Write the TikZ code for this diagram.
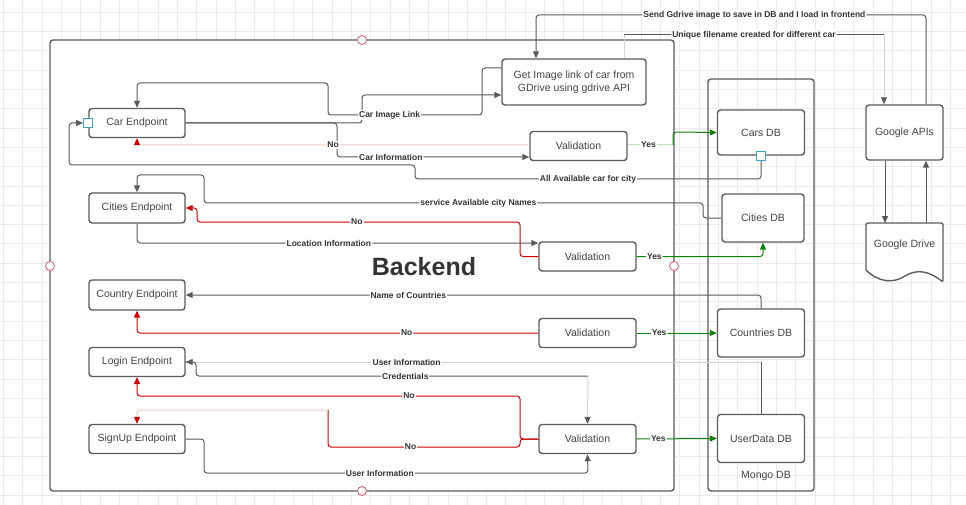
\documentclass[tikz,border=0pt]{standalone}
\usepackage{fontspec}
\setmainfont{Liberation Sans}
\usetikzlibrary{arrows.meta}
\definecolor{linec}{HTML}{5A5A5A}
\definecolor{boxc}{HTML}{5C5C5C}
\definecolor{txtc}{HTML}{444444}
\definecolor{lblc}{HTML}{333333}
\definecolor{gridc}{HTML}{EBEBEB}
\definecolor{redc}{HTML}{D00000}
\definecolor{pinkc}{HTML}{F3C9C9}
\definecolor{greenc}{HTML}{0A800A}
\definecolor{lgreenc}{HTML}{BFE3BF}
\definecolor{lgrayc}{HTML}{D4D4D4}
\definecolor{handlec}{HTML}{D9596A}
\definecolor{sqc}{HTML}{3FA3C4}
\begin{document}
\begin{tikzpicture}[x=1pt,y=-1pt,
  box/.style={draw=boxc,line width=1.4pt,rounded corners=3pt,fill=white,text=txtc,font=\fontsize{10.5}{13}\selectfont,inner sep=0pt,align=center},
  frame/.style={draw=boxc,line width=1.4pt,rounded corners=3pt,inner sep=0pt},
  lbl/.style={fill=white,inner sep=1pt,text=lblc,font=\bfseries\fontsize{8.5}{10}\selectfont},
  conn/.style={draw=linec,line width=1pt,rounded corners=3pt},
  lconn/.style={draw=lgrayc,line width=1pt,rounded corners=3pt},
  noline/.style={draw=redc,line width=1pt,rounded corners=3pt},
  lnoline/.style={draw=pinkc,line width=1pt,rounded corners=3pt},
  yesline/.style={draw=greenc,line width=1pt,rounded corners=3pt},
  lyesline/.style={draw=lgreenc,line width=1pt,rounded corners=3pt},
  arr/.style={-{Triangle[length=7pt,width=6pt,color=#1]}},
  arr/.default=linec,
  handle/.style={circle,draw=handlec,fill=white,line width=0.8pt,minimum size=9pt,inner sep=0pt},
  sq/.style={rectangle,draw=sqc,fill=white,line width=0.9pt,minimum size=9pt,inner sep=0pt}
]
\useasboundingbox (0,0) rectangle (966,505);
\fill[white] (0,0) rectangle (966,505);
\foreach \i in {0,...,50} {\draw[gridc,line width=0.7pt] ({3.5+19.32*\i},0) -- ({3.5+19.32*\i},505);}
\foreach \j in {0,...,26} {\draw[gridc,line width=0.7pt] (0,{12+19.32*\j}) -- (966,{12+19.32*\j});}

% containers
\node[frame,fill=white,minimum width=624pt,minimum height=451pt] (backend) at (362,265.5) {};
\node[frame,minimum width=106pt,minimum height=412pt] (mongo) at (761,285) {};
\node[text=txtc,font=\fontsize{10.5}{13}\selectfont] (mongolbl) at (766,476) {Mongo DB};
\node[text=lblc,font=\bfseries\fontsize{25}{30}\selectfont] (backendlbl) at (424,267) {Backend};

% endpoints
\node[box,minimum width=96pt,minimum height=29pt] (car) at (137,123) {Car Endpoint};
\node[box,minimum width=96pt,minimum height=30pt] (cities) at (137,208) {Cities Endpoint};
\node[box,minimum width=96pt,minimum height=30pt] (country) at (137,295) {Country Endpoint};
\node[box,minimum width=96pt,minimum height=29pt] (login) at (137,362) {Login Endpoint};
\node[box,minimum width=96pt,minimum height=29pt] (signup) at (137,439) {SignUp Endpoint};

% middle
\node[box,minimum width=144pt,minimum height=46pt] (getimg) at (574,82) {Get Image link of car from\\GDrive using gdrive API};
\node[box,minimum width=97pt,minimum height=29pt] (val1) at (578.5,146) {Validation};
\node[box,minimum width=97pt,minimum height=29pt] (val2) at (587.5,256.5) {Validation};
\node[box,minimum width=97pt,minimum height=29pt] (val3) at (587.5,333) {Validation};
\node[box,minimum width=97pt,minimum height=29pt] (val4) at (587.5,439) {Validation};

% databases
\node[box,minimum width=87pt,minimum height=45pt] (carsdb) at (761,132.5) {Cars DB};
\node[box,minimum width=82pt,minimum height=48pt] (citiesdb) at (763,218) {Cities DB};
\node[box,minimum width=87pt,minimum height=48pt] (countriesdb) at (761,333) {Countries DB};
\node[box,minimum width=87pt,minimum height=48pt] (userdb) at (761,438.5) {UserData DB};

% google
\node[box,minimum width=77pt,minimum height=55pt] (gapis) at (904.5,132.5) {Google APIs};
\draw[draw=boxc,fill=white,line width=1.4pt,rounded corners=2pt] (866,270) -- (866,223) -- (943,223) -- (943,282) [sharp corners] .. controls (930,272) and (918,268) .. (905,276) .. controls (893,284) and (878,282) .. (866,270) -- cycle;
\node[text=txtc,font=\fontsize{10.5}{13}\selectfont] (gdrive) at (904.5,245) {Google Drive};
\coordinate (gdin) at (885,223);
\coordinate (gdout) at (926,223);

% small squares
\node[sq] (carsq) at (88,123) {};
\node[sq] (carsdbsq) at (761,156) {};

% ---- connectors ----
\draw[conn,arr] (car.east) -- (362,123) -- (362,95) -- (getimg.west |- 0,95);
\draw[conn,arr] (getimg.west |- 0,68) -- (482,68) -- (482,115) -- node[lbl,pos=0.6]{Car Image Link} (328,115) -- (328,83) -- (137,83) -- (car.north);
\draw[conn,arr] (car.east) -- (337,123) -- (337,157) -- node[lbl,pos=0.28]{Car Information} (val1.west |- 0,157);
\draw[lnoline,arr=redc] (val1.west |- 0,145) -- node[lbl,pos=0.5]{No} (137,145) -- (car.south);
\coordinate (y1) at (673,145);
\draw[lyesline] (val1.east |- 0,145) -- node[lbl,pos=0.46]{Yes} (y1);
\draw[yesline,arr=greenc] (y1) -- (673,132) -- (carsdb.west);
\draw[conn,arr] (carsdbsq.south) -- (761,179) -- node[lbl,pos=0.5]{All Available car for city} (415,179) -- (415,165) -- (69,165) -- (69,123) -- (carsq.west);
\draw[conn,arr] (citiesdb.west) -- (703,218) -- (703,203) -- node[lbl,pos=0.45]{service Available city Names} (204,203) -- (204,175) -- (137,175) -- (cities.north);
\draw[noline,arr=redc] (val2.west) -- (520,256.5) -- (520,222) -- node[lbl,pos=0.505]{No} (197,222) -- (197,208) -- (cities.east);
\draw[conn,arr] (cities.south) -- (137,243) -- node[lbl,pos=0.478]{Location Information} (val2.west |- 0,243);
\draw[yesline,arr=greenc] (val2.east) -- node[lbl,pos=0.14]{Yes} (763,256.5) -- (citiesdb.south);
\draw[conn,arr] (countriesdb.north) -- (761,295) -- node[lbl,pos=0.613]{Name of Countries} (country.east);
\draw[noline,arr=redc] (val3.west) -- node[lbl,pos=0.328]{No} (137,333) -- (country.south);
\draw[yesline,arr=greenc] (val3.east) -- node[lbl,pos=0.28]{Yes} (countriesdb.west);
\coordinate (u1) at (761,362);
\draw[conn] (userdb.north) -- (u1);
\draw[lconn,arr=linec] (u1) -- node[lbl,pos=0.616]{User Information} (login.east);
\coordinate (c1) at (588,376);
\draw[conn] (login.east) -- (196,362) -- (196,376) -- node[lbl,pos=0.534]{Credentials} (c1);
\draw[lconn,arr=linec] (c1) -- (val4.north);
\draw[noline,arr=redc] (val4.west) -- (520,439) -- (520,396) -- node[lbl,pos=0.29]{No} (137,396) -- (login.south);
\coordinate (n1) at (328,410);
\draw[noline] (val4.west) -- (520,439) -- (520,447) -- node[lbl,pos=0.57]{No} (328,447) -- (n1);
\draw[lnoline,arr=redc] (n1) -- (137,410) -- (signup.north);
\draw[conn,arr] (signup.east) -- (204,439) -- (204,473) -- node[lbl,pos=0.458]{User Information} (588,473) -- (val4.south);
\draw[yesline,arr=greenc] (val4.east) -- node[lbl,pos=0.27]{Yes} (userdb.west);
\draw[conn,arr] (926,0 |- gapis.north) -- (926,15) -- node[lbl,pos=0.44]{Send Gdrive image to save in DB and I load in frontend} (536,15) -- (536,0 |- getimg.north);
\coordinate (f1) at (624,35);
\coordinate (f2) at (884,35);
\draw[lconn] (624,0 |- getimg.north) -- (f1);
\draw[conn] (f1) -- node[lbl,pos=0.5]{Unique filename created for different car} (f2);
\draw[lconn,arr=linec] (f2) -- (884,0 |- gapis.north);
\draw[conn,arr] (885,0 |- gapis.south) -- (gdin);
\draw[conn,arr] (gdout) -- (926,0 |- gapis.south);

% handles
\node[handle] (h1) at (362,40) {};
\node[handle] (h2) at (50,266) {};
\node[handle] (h3) at (674,266) {};
\node[handle] (h4) at (362,491) {};
\end{tikzpicture}
\end{document}
